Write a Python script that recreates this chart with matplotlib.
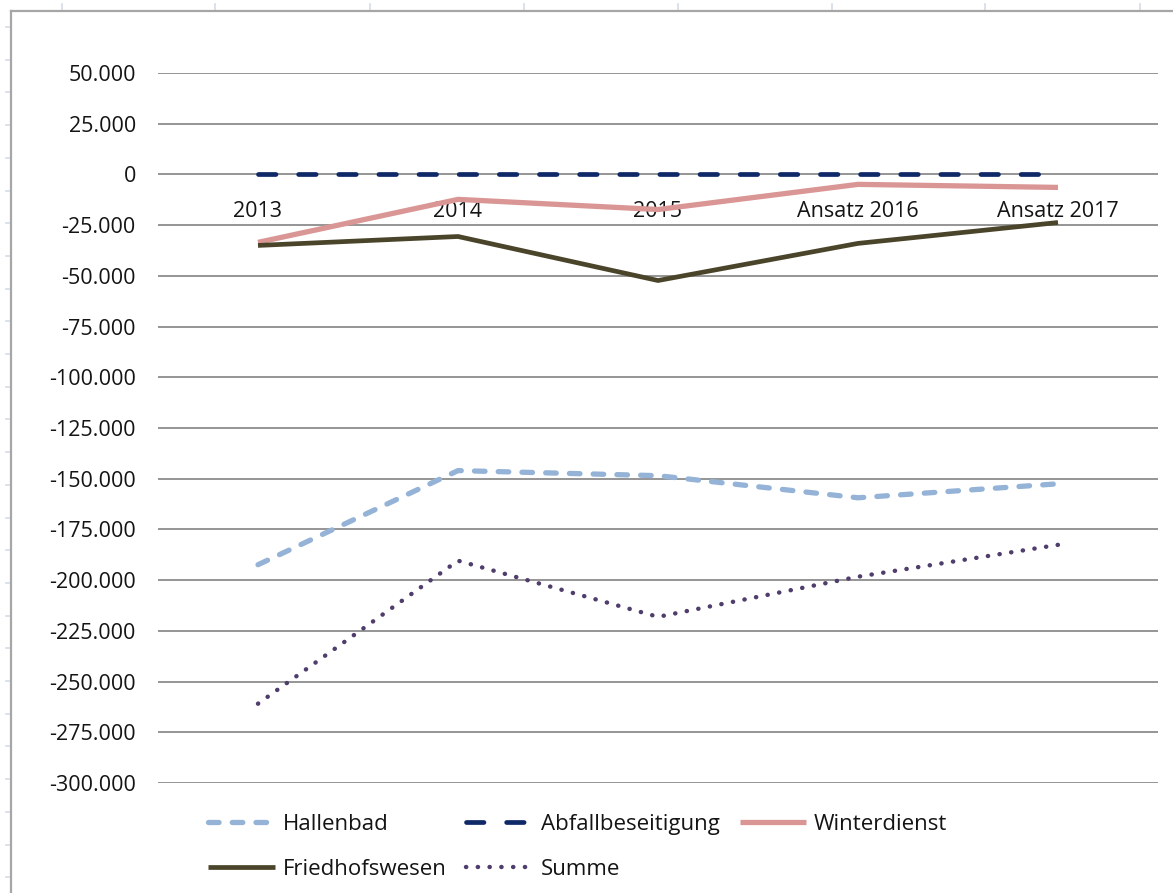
import matplotlib
matplotlib.use("Agg")
import matplotlib.pyplot as plt
from matplotlib.lines import Line2D
from matplotlib.ticker import FuncFormatter

# Categories (years) and series values in EUR
categories = ["2013", "2014", "2015", "Ansatz 2016", "Ansatz 2017"]
hallenbad = [-192400, -146000, -148500, -159400, -152500]
abfallbeseitigung = [0, 0, 0, 0, 0]
winterdienst = [-33500, -12300, -17300, -4900, -6400]
friedhofswesen = [-35000, -30600, -52300, -34000, -23700]
summe = [-260900, -190400, -218100, -198300, -182600]

y_ticks = list(range(-300000, 50001, 25000))

plt.rcParams["font.family"] = ["Open Sans", "DejaVu Sans"]
FS = 15.5
FS_LEG = 16
TXT = "#141414"

W, H = 1173, 893
fig = plt.figure(figsize=(W / 100, H / 100), dpi=100)
fig.patch.set_facecolor("white")

# spreadsheet cell separators around the chart object
for xc in [62, 215, 370, 524, 678, 832, 985, 1140]:
    fig.add_artist(Line2D([xc / W, xc / W], [1 - 4 / H, 1 - 10 / H],
                          color="#d4dbe8", lw=1.2))
k = 0
while 27 + 32.7 * k < H:
    yc = 27 + 32.7 * k
    fig.add_artist(Line2D([6 / W, 9 / W], [1 - yc / H, 1 - yc / H],
                          color="#d4dbe8", lw=1.2))
    k += 1

# chart area border
fig.add_artist(Line2D([11 / W, 11 / W], [0, 1 - 11 / H], color="#a6a6a6", lw=1.6))
fig.add_artist(Line2D([11 / W, 1], [1 - 11 / H, 1 - 11 / H], color="#a6a6a6", lw=1.6))

ax = fig.add_axes([158 / W, (H - 783) / H, 1000 / W, 710 / H])
ax.set_xlim(-0.5, len(categories) - 0.5)
ax.set_ylim(-300000, 50000)

x = list(range(len(categories)))

l_h, = ax.plot(x, hallenbad, color="#95b3d7", lw=3.8, linestyle=(0, (2.0, 2.5)),
               dash_capstyle="round", label="Hallenbad", zorder=3)
l_a, = ax.plot(x, abfallbeseitigung, color="#0f2867", lw=3.4, linestyle=(0, (3.7, 4.8)),
               dash_capstyle="round", label="Abfallbeseitigung", zorder=3)
l_w, = ax.plot(x, winterdienst, color="#d99694", lw=3.8, solid_capstyle="butt",
               label="Winterdienst", zorder=3)
l_f, = ax.plot(x, friedhofswesen, color="#4a452a", lw=3.4, solid_capstyle="butt",
               label="Friedhofswesen", zorder=3)
l_s, = ax.plot(x, summe, color="#4f3d6b", lw=3.2, linestyle=(0, (0.05, 2.6)),
               dash_capstyle="round", label="Summe", zorder=3)

# horizontal gridlines
ax.set_yticks(y_ticks)
ax.yaxis.grid(True, color="#8c8c8c", lw=1.3)
ax.set_axisbelow(True)
ax.yaxis.set_major_formatter(
    FuncFormatter(lambda v, p: f"{int(v):,}".replace(",", ".")))
ax.tick_params(axis="y", length=0, pad=16, labelsize=FS, labelcolor=TXT)

# category axis crosses at zero
ax.spines["bottom"].set_position(("data", 0))
for s in ax.spines.values():
    s.set_visible(False)
ax.set_xticks(x)
ax.set_xticklabels(categories)
ax.tick_params(axis="x", length=0, pad=19, labelsize=FS, labelcolor=TXT)

# legend fills column by column, so order entries to read row by row
handles = [l_h, l_f, l_a, l_s, l_w]
leg = fig.legend(handles, [h.get_label() for h in handles],
                 loc="upper left", bbox_to_anchor=(208 / W, 1 - 814 / H),
                 ncol=3, frameon=False, fontsize=FS_LEG, handlelength=3.0,
                 handletextpad=0.35, columnspacing=0.9, labelspacing=1.08,
                 borderpad=0, borderaxespad=0)
for t in leg.get_texts():
    t.set_color(TXT)

fig.savefig("out.png", dpi=100, facecolor="white")
